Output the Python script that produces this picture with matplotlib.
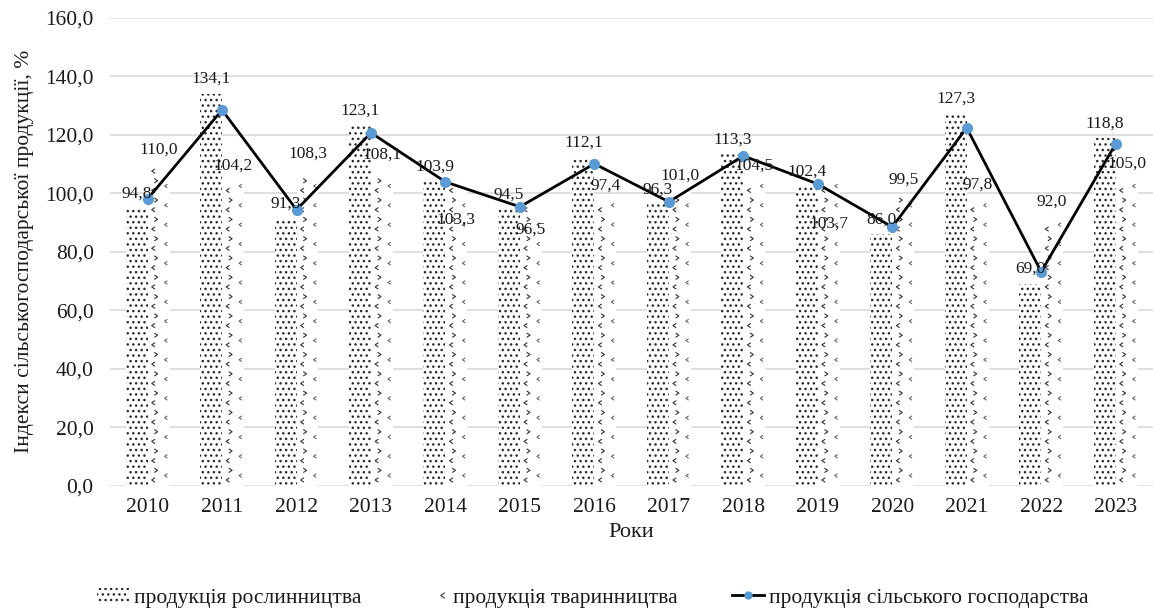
import numpy as np
import matplotlib
matplotlib.use("Agg")
import matplotlib.pyplot as plt
from matplotlib.path import Path
from matplotlib.patches import Patch
from matplotlib.lines import Line2D
from matplotlib.legend_handler import HandlerTuple
from matplotlib.ticker import FuncFormatter

plt.rcParams["font.family"] = ["Liberation Serif", "DejaVu Serif"]
plt.rcParams["hatch.linewidth"] = 1.0

years = ["2010", "2011", "2012", "2013", "2014", "2015", "2016",
         "2017", "2018", "2019", "2020", "2021", "2022", "2023"]
crop = [94.8, 134.1, 91.3, 123.1, 103.9, 94.5, 112.1,
        96.3, 113.3, 102.4, 86.0, 127.3, 69.0, 118.8]
livestock = [110.0, 104.2, 108.3, 108.1, 103.3, 96.5, 97.4,
             101.0, 104.5, 103.7, 99.5, 97.8, 92.0, 105.0]
# total index is not labelled in the source
total = [98.1, 128.5, 94.4, 120.7, 103.9, 95.4, 110.1,
         97.1, 112.8, 103.2, 88.5, 122.4, 73.2, 116.9]

labels_crop = "продукція рослинництва"
labels_live = "продукція тваринництва"
labels_total = "продукція сільського господарства"

# livestock labels that sit under the bar top in the source (offset in points)
live_label_dy = {"2014": -20, "2015": -13, "2019": -24}

TXT = "#1a1a1a"
GRID = "#d9d9d9"
BLUE = "#5b9bd5"
W = 0.295

fig = plt.figure(figsize=(11.74, 6.15), dpi=100)
ax = fig.add_axes([0.094, 0.21, 0.888, 0.761])

x = np.arange(len(years))

ax.bar(x - W / 2, crop, W, facecolor="white", edgecolor="#2a2a2a",
       linewidth=0, hatch="...", zorder=2)
ax.bar(x + W / 2, livestock, W, facecolor="white", edgecolor="none",
       linewidth=0, zorder=2)

# chevron texture for livestock bars
chev_l = Path([(0.5, 0.6), (-0.4, 0.0), (0.5, -0.6)],
              [Path.MOVETO, Path.LINETO, Path.LINETO])
chev_r = Path([(-0.5, 0.6), (0.4, 0.0), (-0.5, -0.6)],
              [Path.MOVETO, Path.LINETO, Path.LINETO])
for xi, h in zip(x, livestock):
    ys = np.arange(2.0, h - 1.0, 3.3)
    ya = ys[::2]
    yb = ys[1::2]
    ax.scatter(np.full(len(ya), xi + 0.075), ya, marker=chev_l, s=10,
               facecolors="none", edgecolors="#333333", linewidths=0.8, zorder=3)
    ax.scatter(np.full(len(yb), xi + 0.115), yb, marker=chev_r, s=10,
               facecolors="none", edgecolors="#333333", linewidths=0.8, zorder=3)
    yc = np.arange(3.5, h - 1.0, 6.6)
    ax.scatter(np.full(len(yc), xi + 0.245), yc, marker=chev_l, s=7,
               facecolors="none", edgecolors="#555555", linewidths=0.7, zorder=3)

ax.plot(x, total, color="black", linewidth=2, marker="o", markersize=7,
        markerfacecolor=BLUE, markeredgecolor=BLUE, zorder=5)

for xi, v in zip(x, crop):
    ax.annotate(f"{v:.1f}".replace(".", ","), (xi - W / 2, v),
                xytext=(0, 5), textcoords="offset points",
                ha="center", va="bottom", fontsize=12.5, color=TXT, zorder=6)
for xi, yr, v in zip(x, years, livestock):
    dy = live_label_dy.get(yr, 5)
    ax.annotate(f"{v:.1f}".replace(".", ","), (xi + W / 2, v),
                xytext=(0, dy), textcoords="offset points",
                ha="center", va="bottom" if dy > 0 else "top",
                fontsize=12.5, color=TXT, zorder=6)

ax.set_xlim(-0.5, len(years) - 0.5)
ax.set_ylim(0, 160)
ax.set_yticks(np.arange(0, 161, 20))
ax.yaxis.set_major_formatter(FuncFormatter(lambda v, p: f"{v:.1f}".replace(".", ",")))
ax.set_xticks(x)
ax.set_xticklabels(years)
ax.tick_params(axis="y", length=0, labelsize=15.5, colors=TXT, pad=12)
ax.tick_params(axis="x", length=0, labelsize=15.5, colors=TXT, pad=9)
ax.grid(axis="y", color=GRID, linewidth=1.2, zorder=0)
ax.set_axisbelow(True)
for s in ax.spines.values():
    s.set_visible(False)

ax.set_xlabel("Роки", fontsize=16, color=TXT, labelpad=4)
ax.set_ylabel("Індекси сільськогосподарської продукції, %", fontsize=15.5,
              color=TXT, labelpad=8)

h1 = Patch(facecolor="white", edgecolor="#2a2a2a", linewidth=0, hatch="...")
h2 = (Patch(facecolor="white", edgecolor="none"),
      Line2D([0], [0], marker=chev_l, linestyle="none", markersize=4,
             markerfacecolor="none", markeredgecolor="#333333", markeredgewidth=0.8))
h3 = Line2D([0], [0], color="black", linewidth=2, marker="o", markersize=5,
            markerfacecolor=BLUE, markeredgecolor=BLUE)
fig.legend([h1, h2, h3], [labels_crop, labels_live, labels_total],
           handler_map={tuple: HandlerTuple(ndivide=None)},
           loc="center", bbox_to_anchor=(0.505, 0.028), ncol=3, frameon=False,
           fontsize=15.5, handlelength=1.5, handletextpad=0.25, columnspacing=2.5,
           labelcolor=TXT)

fig.savefig("out.png", dpi=100)
